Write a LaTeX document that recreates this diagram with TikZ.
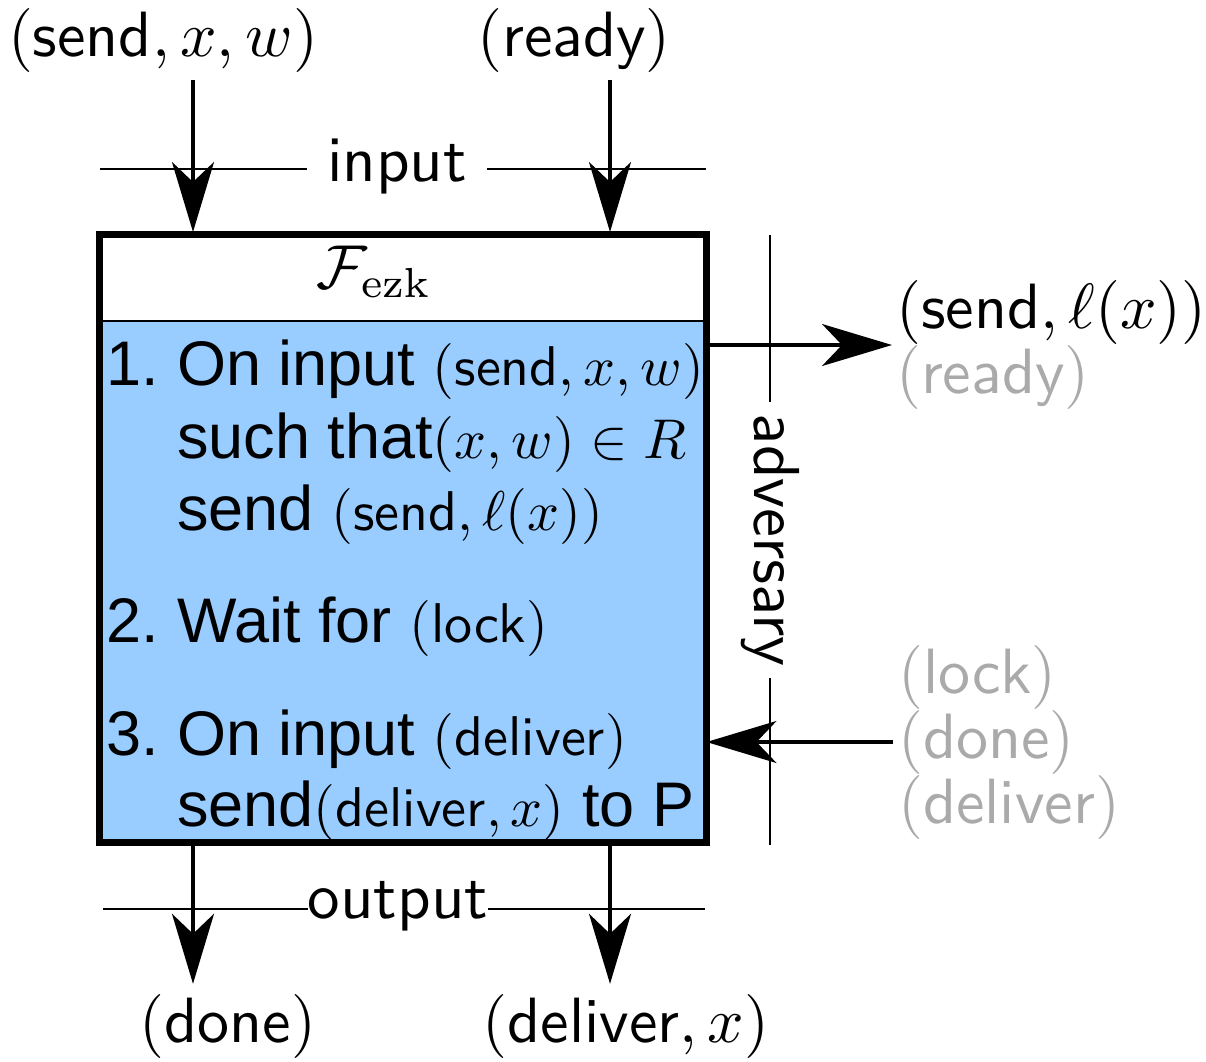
\documentclass[tikz,border=0pt]{standalone}
\usepackage{fontspec}
% scalable Computer Modern math at its 10pt design
\DeclareFontShape{OT1}{cmr}{m}{n}{<->cmr10}{}
\DeclareFontShape{OML}{cmm}{m}{it}{<->cmmi10}{}
\DeclareFontShape{OMS}{cmsy}{m}{n}{<->cmsy10}{}
\DeclareFontShape{OMX}{cmex}{m}{n}{<->cmex10}{}
\DeclareSymbolFont{operators}{OT1}{cmr}{m}{n}
\DeclareMathAlphabet{\mathrm}{OT1}{cmr}{m}{n}
% roman at its 7pt design, for the name index
\DeclareFontFamily{OT1}{cmrseven}{}
\DeclareFontShape{OT1}{cmrseven}{m}{n}{<->cmr7}{}
\newfontfamily\lblfont{lmsans10-regular.otf}
\newfontfamily\itemfont{Liberation Sans}
\usetikzlibrary{arrows.meta}
\definecolor{boxblue}{RGB}{153,204,255}
\definecolor{msggray}{RGB}{170,170,170}
% message names, set upright in the sans face, also inside formulas
\newcommand\msgname[1]{\mbox{\lblfont #1}}
\newcommand\fname[1]{\mbox{\fontsize{42}{46}\usefont{OT1}{cmrseven}{m}{n}#1}}
% font sizes: labels outside the box, step text, and message tuples
\newcommand\lblsize{\lblfont\fontsize{64}{65}\selectfont}
\newcommand\rulesize{\lblfont\fontsize{65}{70}\selectfont}
\newcommand\itemsize{\itemfont\fontsize{63}{73}\selectfont}
\newcommand\tup[1]{{\lblfont\fontsize{56}{60}\selectfont$#1$}}

\begin{document}
\begin{tikzpicture}[x=1pt,y=-1pt,
  msg/.style={line width=3.3pt,-{Stealth[length=70pt,width=42pt,inset=20pt]}},
  rule/.style={line width=1.6pt},
  lbl/.style={font=\lblsize, inner sep=0pt},
  itm/.style={font=\itemsize, anchor=base west, inner sep=0pt},
]
\useasboundingbox (0,0) rectangle (1206,1061);

% the functionality box: title band and blue body
\node[anchor=north west, minimum width=607pt, minimum height=608pt,
      inner sep=0pt, outer sep=0pt] (box) at (99.5,234.5) {};
\coordinate (sepL) at (99.5,321);
\coordinate (sepR) at (706.5,321);
\fill[boxblue] (sepL) rectangle (box.south east);
\draw[line width=1.6pt] (sepL) -- (sepR);
\draw[line width=6.5pt] (box.north west) rectangle (box.south east);

\node[anchor=base, font=\fontsize{62}{70}\selectfont] (title) at (373,288)
  {$\mathcal{F}_{\fname{ezk}}$};

% steps of the functionality
\node[itm] (n1) at (106,385) {1.};
\node[itm] (l1) at (177,385) {On input \tup{(\msgname{send}, x, w)}};
\node[itm] (l2) at (177,458) {such that\tup{(x, w) \in R}};
\node[itm] (l3) at (177,530) {send \tup{(\msgname{send}, \ell(x))}};
\node[itm] (n2) at (106,642) {2.};
\node[itm] (l4) at (177,642) {Wait for \tup{(\msgname{lock})}};
\node[itm] (n3) at (106,755) {3.};
\node[itm] (l5) at (177,755) {On input \tup{(\msgname{deliver})}};
\node[itm] (l6) at (177,826) {send\tup{(\msgname{deliver}, x)} to P};

% input side
\node[lbl, anchor=base, inner sep=8pt] (inx) at (163,56) {$(\msgname{send}, x, w)$};
\node[lbl, anchor=base, inner sep=8pt] (inr) at (574,56) {$(\msgname{ready})$};
\node[lbl, font=\rulesize, inner xsep=20pt, inner ysep=0pt] (inlbl) at (397,167) {input};
\coordinate (inL) at (100,169);
\coordinate (inR) at (706,169);
\draw[rule] (inL) -- (inL -| inlbl.west);
\draw[rule] (inlbl.east |- inR) -- (inR);
\coordinate (a1) at (193,232);
\coordinate (a2) at (610,232);
\draw[msg] (inx.south -| a1) -- (a1);
\draw[msg] (inr.south -| a2) -- (a2);

% output side
\node[lbl, font=\rulesize, inner sep=0pt] (outlbl) at (398,906) {output};
\coordinate (oL) at (103,909);
\coordinate (oR) at (705,909);
\draw[rule] (oL) -- (oL -| outlbl.west);
\draw[rule] (outlbl.east |- oR) -- (oR);
\node[lbl, anchor=base, inner sep=10pt] (outd) at (228,1042) {$(\msgname{done})$};
\node[lbl, anchor=base, inner sep=10pt] (outx) at (626,1042) {$(\msgname{deliver}, x)$};
\coordinate (b1) at (193,842);
\coordinate (b2) at (610,842);
\draw[msg] (b1) -- (b1 |- outd.north);
\draw[msg] (b2) -- (b2 |- outx.north);

% adversary side
\node[lbl, font=\rulesize, rotate=-90, inner xsep=12pt, inner ysep=0pt] (adv) at (770,540) {adversary};
\coordinate (advT) at (770,235);
\coordinate (advB) at (770,845);
\draw[rule] (advT) -- (adv.west);
\draw[rule] (adv.east) -- (advB);

\node[lbl, anchor=west, align=left, inner sep=4pt] (advout) at (892,345)
  {$(\msgname{send}, \ell(x))$\\\textcolor{msggray}{$(\msgname{ready})$}};
\draw[msg] (box.east |- advout.west) -- (advout.west);

\node[lbl, anchor=west, align=left, text=msggray, inner sep=5pt] (advin) at (893,742)
  {$(\msgname{lock})$\\$(\msgname{done})$\\$(\msgname{deliver})$};
\draw[msg] (advin.west) -- (box.east |- advin.west);
\end{tikzpicture}
\end{document}
